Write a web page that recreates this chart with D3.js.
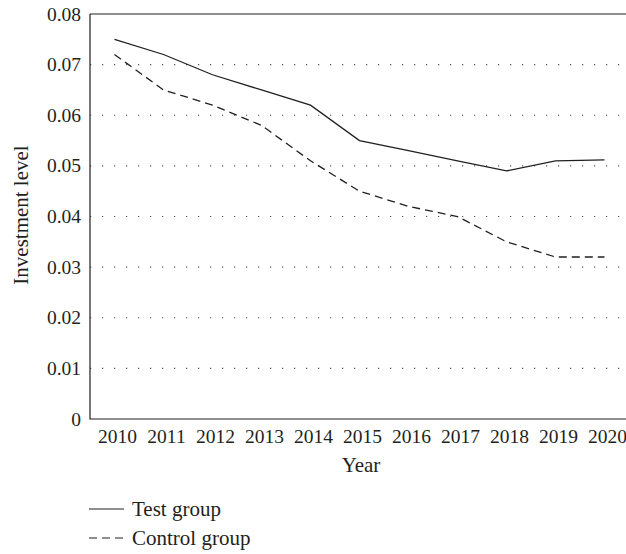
<head>
    <script src="https://d3js.org/d3.v7.min.js"></script>
    <style>
        body { margin: 0; background: #fff; }
        text { font-family: "Liberation Serif", "DejaVu Serif", serif; fill: #231f20; }
    </style>
</head>
<body>
<script>
    let years = ["2010","2011","2012","2013","2014","2015","2016","2017","2018","2019","2020"];
    let testGroup = [0.075, 0.072, 0.068, 0.065, 0.062, 0.055, 0.053, 0.051, 0.049, 0.051, 0.0512];
    let controlGroup = [0.072, 0.065, 0.062, 0.058, 0.051, 0.045, 0.042, 0.040, 0.035, 0.032, 0.032];
    let yTicks = [0, 0.01, 0.02, 0.03, 0.04, 0.05, 0.06, 0.07, 0.08];

    let width = 626;
    let height = 554;
    let plotLeft = 90, plotRight = 629, plotTop = 14, plotBottom = 419;
    let fontSize = "19.5px";
    let titleSize = "21px";

    let svg = d3.select("body").append("svg")
        .attr("width", width)
        .attr("height", height);

    let x = d3.scalePoint()
        .domain(years)
        .range([plotLeft, plotRight])
        .padding(0.5);

    let y = d3.scaleLinear()
        .domain([0, 0.08])
        .range([plotBottom, plotTop]);

    // dotted grid lines
    svg.selectAll(".grid")
        .data(yTicks.filter(d => d > 0 && d < 0.08))
        .join("line")
        .attr("class", "grid")
        .attr("x1", plotLeft)
        .attr("x2", width)
        .attr("y1", d => y(d))
        .attr("y2", d => y(d))
        .attr("stroke", "#555")
        .attr("stroke-width", 1.2)
        .attr("stroke-dasharray", "1.2,10.8");

    // frame: left, bottom, top
    let frame = d3.line();
    svg.append("path")
        .attr("d", frame([[plotLeft, y(0.08)], [plotLeft, y(0)], [width, y(0)]]))
        .attr("fill", "none")
        .attr("stroke", "#231f20")
        .attr("stroke-width", 1.2);
    svg.append("line")
        .attr("x1", plotLeft).attr("x2", width)
        .attr("y1", y(0.08)).attr("y2", y(0.08))
        .attr("stroke", "#231f20")
        .attr("stroke-width", 1.2);

    // y tick labels
    svg.selectAll(".ylabel")
        .data(yTicks)
        .join("text")
        .attr("class", "ylabel")
        .attr("x", 81)
        .attr("y", d => y(d) + 6.5)
        .attr("text-anchor", "end")
        .attr("font-size", fontSize)
        .text(d => d === 0 ? "0" : d.toFixed(2));

    // x tick labels
    svg.selectAll(".xlabel")
        .data(years)
        .join("text")
        .attr("class", "xlabel")
        .attr("x", d => x(d) + 3)
        .attr("y", 443)
        .attr("text-anchor", "middle")
        .attr("font-size", fontSize)
        .text(d => d);

    // axis titles
    svg.append("text")
        .attr("x", 361)
        .attr("y", 472)
        .attr("text-anchor", "middle")
        .attr("font-size", titleSize)
        .text("Year");

    svg.append("text")
        .attr("transform", "translate(28,215) rotate(-90)")
        .attr("text-anchor", "middle")
        .attr("font-size", titleSize)
        .text("Investment level");

    let line = d3.line()
        .x((d, i) => x(years[i]))
        .y(d => y(d));

    svg.append("path")
        .datum(testGroup)
        .attr("d", line)
        .attr("fill", "none")
        .attr("stroke", "#231f20")
        .attr("stroke-width", 1.3);

    svg.append("path")
        .datum(controlGroup)
        .attr("d", line)
        .attr("fill", "none")
        .attr("stroke", "#231f20")
        .attr("stroke-width", 1.3)
        .attr("stroke-dasharray", "8,5");

    // legend
    let legend = [
        {name: "Test group", dash: null, y: 509},
        {name: "Control group", dash: "8,5", y: 538}
    ];
    svg.selectAll(".legline")
        .data(legend)
        .join("line")
        .attr("class", "legline")
        .attr("x1", 89).attr("x2", 124)
        .attr("y1", d => d.y).attr("y2", d => d.y)
        .attr("stroke", "#231f20")
        .attr("stroke-width", 1.2)
        .attr("stroke-dasharray", d => d.dash);
    svg.selectAll(".legtext")
        .data(legend)
        .join("text")
        .attr("class", "legtext")
        .attr("x", 132)
        .attr("y", d => d.y + 7)
        .attr("font-size", titleSize)
        .text(d => d.name);
</script>
</body>
</html>
